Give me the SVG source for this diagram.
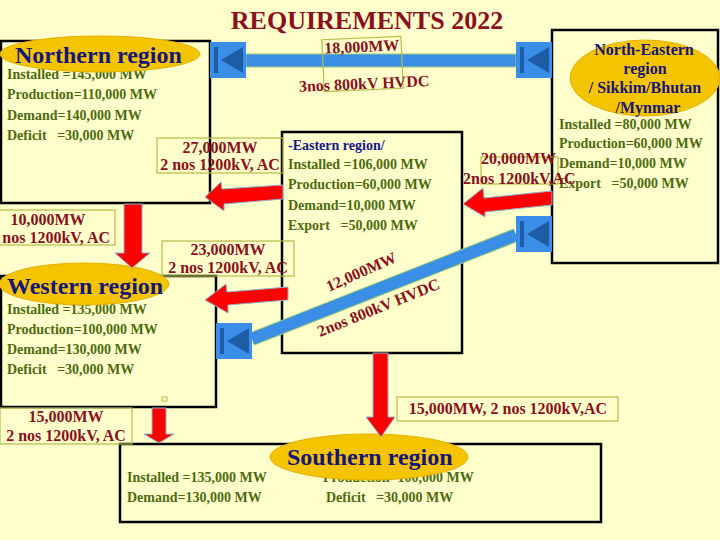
<svg xmlns="http://www.w3.org/2000/svg" width="720" height="540" viewBox="0 0 720 540">
<style>
text{font-family:"Liberation Serif","Times New Roman",serif;font-weight:bold}
.box{fill:none;stroke:#000;stroke-width:2.5}
.ell{fill:#F4C400;stroke:#E2B000;stroke-width:1}
.rt{fill:#16167A;font-size:24px}
.nt{fill:#16167A;font-size:16px;text-anchor:middle}
.dt{fill:#4E6A10;font-size:14px}
.et{fill:#16168A;font-size:14px}
.lb{fill:#8A1020;font-size:16px}
.lbm{fill:#8A1020;font-size:16px;text-anchor:middle}
.lbox{fill:none;stroke:#B4BC48;stroke-width:1.2}
.arr{fill:#FF0000;stroke:#8FB4D0;stroke-width:1}
.hv{fill:#3A8EE6;stroke:#9CCB78;stroke-width:1}
</style>
<defs>
<g id="conv">
<rect x="0" y="0" width="36" height="36" fill="#3A8EE8"/>
<rect x="4" y="5" width="4" height="26" fill="#1F5CA6"/>
<polygon points="11,18 33,5 33,31" fill="#1F5CA6"/>
</g>
</defs>
<rect x="0" y="0" width="720" height="540" fill="#FFFFCC"/>
<text x="367" y="29" text-anchor="middle" fill="#8A1020" font-size="26">REQUIREMENTS 2022</text>

<g id="northern">
<rect class="box" x="1" y="41" width="209" height="162"/>
<text class="dt" x="7" y="79">Installed =145,000 MW</text>
<text class="dt" x="7" y="99">Production=110,000 MW</text>
<text class="dt" x="7" y="120">Demand=140,000 MW</text>
<text class="dt" x="7" y="140" xml:space="preserve">Deficit   =30,000 MW</text>
<ellipse class="ell" cx="100" cy="54" rx="100" ry="18"/>
<text class="rt" x="15" y="63">Northern region</text>
</g>

<g id="northeastern">
<rect class="box" x="552" y="30" width="166" height="233"/>
<text class="dt" x="559" y="129">Installed =80,000 MW</text>
<text class="dt" x="559" y="148">Production=60,000 MW</text>
<text class="dt" x="559" y="168">Demand=10,000 MW</text>
<text class="dt" x="559" y="188" xml:space="preserve">Export   =50,000 MW</text>
<ellipse class="ell" cx="645" cy="78" rx="75" ry="38"/>
<text class="nt" x="644" y="55">North-Eastern</text>
<text class="nt" x="645" y="74">region</text>
<text class="nt" x="645" y="93">/ Sikkim/Bhutan</text>
<text class="nt" x="648" y="113">/Mynmar</text>
</g>

<g id="eastern">
<rect class="box" x="282" y="132" width="180" height="221"/>
<text class="et" x="288" y="150">-Eastern region/</text>
<text class="dt" x="288" y="169">Installed =106,000 MW</text>
<text class="dt" x="288" y="189">Production=60,000 MW</text>
<text class="dt" x="288" y="210">Demand=10,000 MW</text>
<text class="dt" x="288" y="230" xml:space="preserve">Export   =50,000 MW</text>
</g>

<g id="western">
<rect class="box" x="1" y="276" width="215" height="131"/>
<text class="dt" x="7" y="314">Installed =135,000 MW</text>
<text class="dt" x="7" y="334">Production=100,000 MW</text>
<text class="dt" x="7" y="354">Demand=130,000 MW</text>
<text class="dt" x="7" y="374" xml:space="preserve">Deficit   =30,000 MW</text>
<rect x="162" y="397" width="5" height="4" fill="none" stroke="#B4BC48" stroke-width="1"/>
<ellipse class="ell" cx="84" cy="284" rx="85" ry="21"/>
<text class="rt" x="7" y="294">Western region</text>
</g>

<g id="southern">
<rect class="box" x="120" y="444" width="481" height="78"/>
<text class="dt" x="127" y="482">Installed =135,000 MW</text>
<text class="dt" x="127" y="502">Demand=130,000 MW</text>
<text class="dt" x="323" y="482">Production=100,000 MW</text>
<text class="dt" x="326" y="502" xml:space="preserve">Deficit   =30,000 MW</text>
<ellipse class="ell" cx="369" cy="457" rx="99" ry="23"/>
<text class="rt" x="287" y="465">Southern region</text>
</g>

<g id="connectors">
<rect class="hv" x="246" y="54" width="270" height="13"/>
<line x1="252" y1="339" x2="516" y2="235" stroke="#9CCB78" stroke-width="14"/>
<line x1="252" y1="339" x2="516" y2="235" stroke="#3A8EE6" stroke-width="12"/>
<use href="#conv" x="210" y="42"/>
<use href="#conv" x="516" y="42"/>
<use href="#conv" x="516" y="216"/>
<use href="#conv" x="216" y="323"/>
<polygon class="arr" points="283,185 222,189 221,182 205,197 224,211 224,204 283,199"/>
<polygon class="arr" points="288,287 227,292 226,284 205,300 228,313 228,305 288,300"/>
<polygon class="arr" points="552,191 484,198 483,188 463,204 485,217 485,212 552,205"/>
<polygon class="arr" points="124,204 142,204 142,253 150,253 132,268 115,253 124,253"/>
<polygon class="arr" points="152,408 166,408 166,434 174,434 159,443 144,434 152,434"/>
<polygon class="arr" points="373,353 388,353 388,417 395,417 381,437 366,417 373,417"/>

<g transform="rotate(-2.5 362 63)">
<rect class="lbox" x="323" y="38" width="79" height="52"/>
<text class="lb" x="325" y="52">18,000MW</text>
<text class="lb" x="298" y="89">3nos 800kV HVDC</text>
</g>
<rect class="lbox" x="157" y="138" width="126" height="35"/>
<text class="lbm" x="220" y="153">27,000MW</text>
<text class="lbm" x="220" y="170">2 nos 1200kV, AC</text>
<rect class="lbox" x="-5" y="210" width="120" height="35"/>
<text class="lbm" x="48" y="225">10,000MW</text>
<text class="lb" x="110" y="243" text-anchor="end">nos 1200kV, AC</text>
<rect class="lbox" x="162" y="241" width="132" height="35"/>
<text class="lbm" x="228" y="255">23,000MW</text>
<text class="lbm" x="228" y="273">2 nos 1200kV, AC</text>
<rect class="lbox" x="481" y="157" width="77" height="27"/>
<text class="lb" x="481" y="164">20,000MW</text>
<text class="lb" x="463" y="184">2nos 1200kV,AC</text>
<text class="lb" x="329" y="292" transform="rotate(-24 329 292)">12,000MW</text>
<text class="lb" x="320" y="337" transform="rotate(-22 320 337)">2nos 800kV HVDC</text>
<rect class="lbox" x="0" y="408" width="132" height="36"/>
<text class="lbm" x="66" y="422">15,000MW</text>
<text class="lbm" x="66" y="441">2 nos 1200kV, AC</text>
<rect class="lbox" x="397" y="397" width="221" height="24"/>
<text class="lbm" x="508" y="414">15,000MW, 2 nos 1200kV,AC</text>
</g>
</svg>
